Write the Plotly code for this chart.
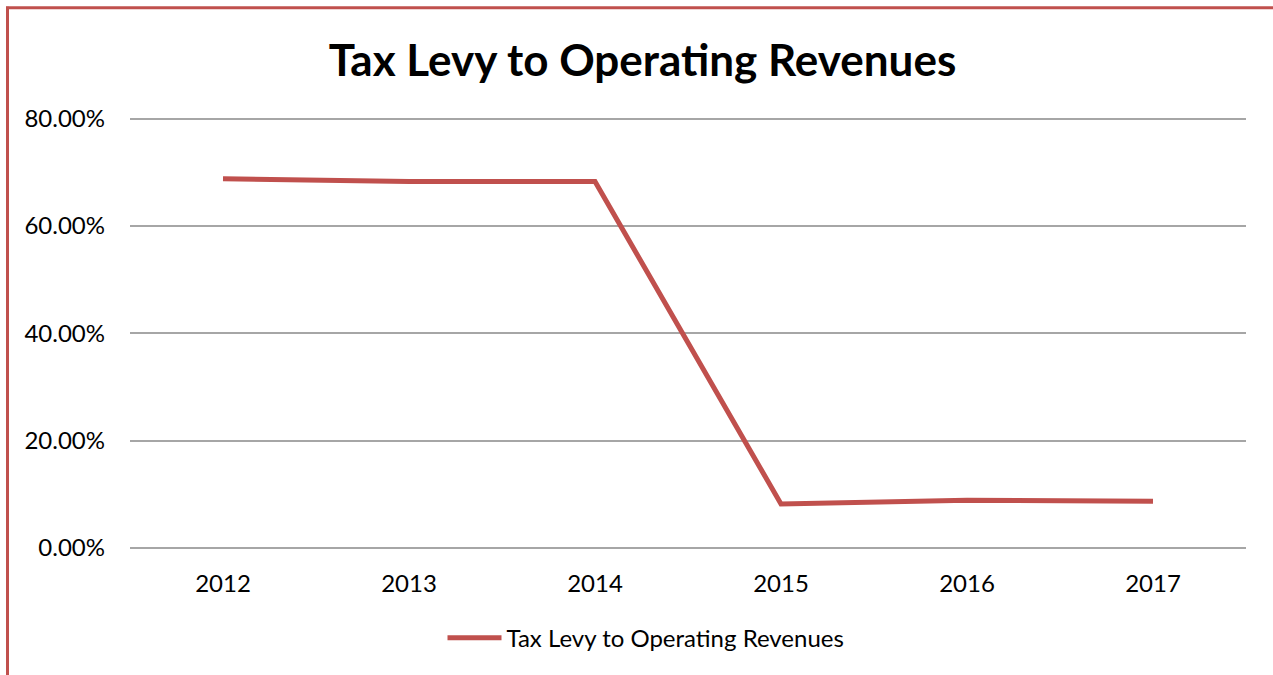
import plotly.graph_objects as go

years = ["2012", "2013", "2014", "2015", "2016", "2017"]
tax_levy_ratio = [68.8, 68.3, 68.3, 8.2, 8.9, 8.7]  # percent
y_ticks = [0, 20, 40, 60, 80]
y_tick_labels = ["0.00%", "20.00%", "40.00%", "60.00%", "80.00%"]

RED = "#C0504D"
FONT = "Lato"

fig = go.Figure()
fig.add_trace(go.Scatter(
    x=years, y=tax_levy_ratio, mode="lines",
    name="Tax Levy to Operating Revenues",
    line=dict(color=RED, width=5),
))

W, H = 1273, 675
Y_MAX = 82  # a little headroom so the top gridline is drawn
ml, mr, mb = 130, 27, 127
ph = (548 - 119) * Y_MAX / 80
mt = H - mb - ph
pw = W - ml - mr

def px_x(p):
    return (p - ml) / pw

def px_y(p):
    return (H - mb - p) / ph

fig.update_layout(
    width=W, height=H,
    margin=dict(l=ml, r=mr, t=mt, b=mb),
    paper_bgcolor="white", plot_bgcolor="white",
    font=dict(family=FONT, color="black", size=24),
    title=dict(text="<b>Tax Levy to Operating Revenues</b>",
               x=0.5 + 6 / W, xanchor="center", y=1 - 61 / H, yanchor="middle",
               font=dict(size=44, family=FONT, color="black")),
    showlegend=True,
    legend=dict(orientation="h", x=px_x(646), xanchor="center",
                y=px_y(638), yanchor="middle",
                font=dict(size=24), itemwidth=54),
    xaxis=dict(type="category", range=[-0.5, 5.5], showgrid=False,
               showline=False, ticks="", tickfont=dict(size=24),
               ticklabelstandoff=19),
    yaxis=dict(range=[0, Y_MAX], tickvals=y_ticks, ticktext=y_tick_labels,
               showgrid=True, gridcolor="#A6A6A6", gridwidth=1.5,
               zeroline=True, zerolinecolor="#A6A6A6", zerolinewidth=1.5,
               ticks="", ticklen=0, tickfont=dict(size=24),
               ticklabelstandoff=24),
    shapes=[
        dict(type="line", xref="paper", yref="paper",
             x0=px_x(7.5), x1=px_x(7.5), y0=px_y(7), y1=px_y(H + 5),
             line=dict(color=RED, width=3)),
        dict(type="line", xref="paper", yref="paper",
             x0=px_x(6), x1=px_x(W + 5), y0=px_y(8), y1=px_y(8),
             line=dict(color=RED, width=3)),
    ],
)

fig.write_html("out.html")
